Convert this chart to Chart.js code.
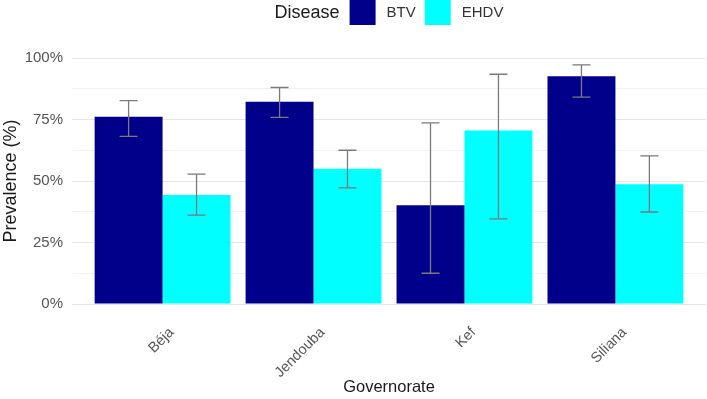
<!DOCTYPE html>
<html>
<head>
<meta charset="utf-8">
<script src="https://cdn.jsdelivr.net/npm/chart.js@4"></script>
<style>
  html, body { margin: 0; padding: 0; background: #fff; }
  #chart { display: block; }
</style>
</head>
<body>
<canvas id="chart" width="707" height="399"></canvas>
<script>
// data
var governorates = ["Béja", "Jendouba", "Kef", "Siliana"];
var diseases = ["BTV", "EHDV"];

var btvPrev = [76.1, 82.2, 40.1, 92.6];
var btvLow = [68.1, 75.9, 12.5, 84.1];
var btvHigh = [82.7, 88.0, 73.6, 97.2];

var ehdvPrev = [44.3, 55.0, 70.5, 48.7];
var ehdvLow = [36.1, 47.2, 34.6, 37.4];
var ehdvHigh = [52.8, 62.5, 93.4, 60.2];

var yTicks = [0, 12.5, 25, 37.5, 50, 62.5, 75, 87.5, 100];

var colors = ["#00008b", "#00ffff"];
var fontName = "'Liberation Sans', Arial, sans-serif";

function points(values) {
  return values.map(function (v, i) {
    return { x: i, y: v };
  });
}

// grey error bars on top of the bars
var errorBars = {
  id: "errorBars",
  afterDatasetsDraw: function (chart) {
    var ctx = chart.ctx;
    var yScale = chart.scales.y;
    ctx.save();
    ctx.strokeStyle = "#7a7a7a";
    ctx.lineWidth = 1.3;
    chart.data.datasets.forEach(function (ds, di) {
      var meta = chart.getDatasetMeta(di);
      meta.data.forEach(function (bar, i) {
        var lo = yScale.getPixelForValue(ds.low[i]);
        var hi = yScale.getPixelForValue(ds.high[i]);
        var half = 9;
        ctx.beginPath();
        ctx.moveTo(bar.x, lo);
        ctx.lineTo(bar.x, hi);
        ctx.moveTo(bar.x - half, lo);
        ctx.lineTo(bar.x + half, lo);
        ctx.moveTo(bar.x - half, hi);
        ctx.lineTo(bar.x + half, hi);
        ctx.stroke();
      });
    });
    ctx.restore();
  },
};

// ggplot style legend on top: "Disease  [■] BTV  [■] EHDV"
var topLegend = {
  id: "topLegend",
  afterDraw: function (chart) {
    var ctx = chart.ctx;
    var area = chart.chartArea;
    ctx.save();
    ctx.textBaseline = "middle";
    ctx.textAlign = "left";

    ctx.font = "18px " + fontName;
    var titleW = ctx.measureText("Disease").width;
    ctx.font = "15px " + fontName;
    var labelW = chart.data.datasets.map(function (ds) {
      return ctx.measureText(ds.label).width;
    });

    var box = 26, gapTitle = 10, gapBox = 11, gapItem = 9;
    var total = titleW + gapTitle;
    labelW.forEach(function (w, i) {
      total += box + gapBox + w + (i < labelW.length - 1 ? gapItem : 0);
    });

    var x = (area.left + area.right) / 2 - total / 2;
    var cy = 13;
    ctx.fillStyle = "#1a1a1a";
    ctx.font = "18px " + fontName;
    ctx.fillText("Disease", x, cy);
    x += titleW + gapTitle;

    ctx.font = "15px " + fontName;
    chart.data.datasets.forEach(function (ds, i) {
      ctx.fillStyle = ds.backgroundColor;
      ctx.fillRect(x, 0, box, 25);
      x += box + gapBox;
      ctx.fillStyle = "#333333";
      ctx.fillText(ds.label, x, cy);
      x += labelW[i] + gapItem;
    });
    ctx.restore();
  },
};

var chart = new Chart(document.getElementById("chart"), {
  type: "bar",
  data: {
    datasets: [
      {
        label: diseases[0],
        data: points(btvPrev),
        low: btvLow,
        high: btvHigh,
        backgroundColor: colors[0],
        borderWidth: 0,
      },
      {
        label: diseases[1],
        data: points(ehdvPrev),
        low: ehdvLow,
        high: ehdvHigh,
        backgroundColor: colors[1],
        borderWidth: 0,
      },
    ],
  },
  options: {
    responsive: false,
    animation: false,
    categoryPercentage: 0.9,
    barPercentage: 1.0,
    layout: { padding: { top: 58, right: 1, left: 0, bottom: 0 } },
    plugins: {
      legend: { display: false },
      tooltip: { enabled: false },
    },
    scales: {
      x: {
        type: "linear",
        min: -0.6,
        max: 3.6,
        offset: false,
        afterBuildTicks: function (scale) {
          scale.ticks = governorates.map(function (g, i) {
            return { value: i };
          });
        },
        afterFit: function (scale) {
          scale.height = 95;
        },
        grid: { display: false, drawTicks: false },
        border: { display: false },
        ticks: {
          autoSkip: false,
          minRotation: 45,
          maxRotation: 45,
          padding: 20,
          labelOffset: 9,
          color: "#555555",
          font: { family: fontName, size: 14.5 },
          callback: function (v) {
            return governorates[v];
          },
        },
        title: {
          display: true,
          text: "Governorate",
          color: "#1a1a1a",
          font: { family: fontName, size: 16.5 },
          padding: { top: 0, bottom: 2 },
        },
      },
      y: {
        min: 0,
        max: 100,
        afterBuildTicks: function (scale) {
          scale.ticks = yTicks.map(function (t) {
            return { value: t };
          });
        },
        afterFit: function (scale) {
          scale.width = 72;
        },
        grid: {
          drawTicks: false,
          color: function (c) {
            return c.tick && c.tick.value % 25 === 0 ? "#e6e6e6" : "#f1f1f1";
          },
          lineWidth: 1,
        },
        border: { display: false },
        ticks: {
          padding: 9,
          color: "#555555",
          font: { family: fontName, size: 15 },
          callback: function (v) {
            return v % 25 === 0 ? v + "%" : "";
          },
        },
        title: {
          display: true,
          text: "Prevalence (%)",
          color: "#1a1a1a",
          font: { family: fontName, size: 18 },
          padding: { top: 0, bottom: 0 },
        },
      },
    },
  },
  plugins: [errorBars, topLegend],
});
</script>
</body>
</html>
